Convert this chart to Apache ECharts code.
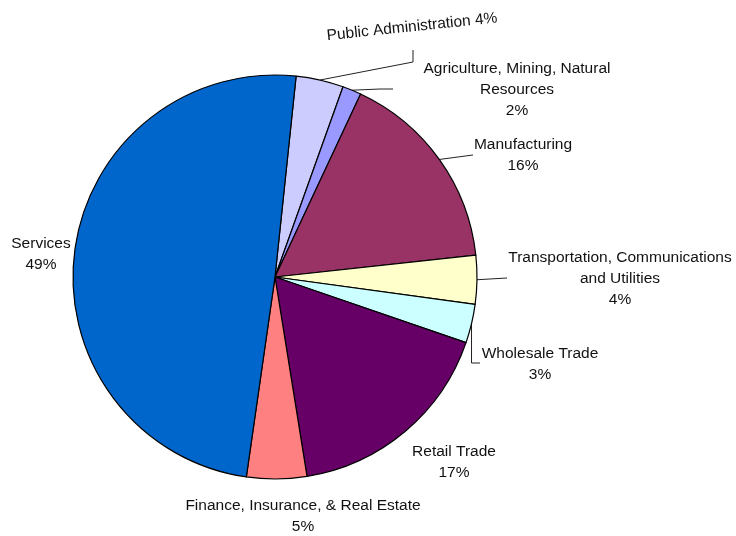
<!DOCTYPE html>
<html>
<head>
<meta charset="utf-8">
<title>Employment by sector</title>
<script src="https://cdn.jsdelivr.net/npm/echarts@6/dist/echarts.min.js"></script>
<style>
  html, body { margin: 0; padding: 0; background: #fff; }
  #chart { width: 736px; height: 536px; }
</style>
</head>
<body>
<div id="chart"></div>
<script>
// sectors, clockwise from the top
var sectors = [
    'Public Administration',
    'Agriculture, Mining, Natural\nResources',
    'Manufacturing',
    'Transportation, Communications\nand Utilities',
    'Wholesale Trade',
    'Retail Trade',
    'Finance, Insurance, & Real Estate',
    'Services'
];
var shares = [3.8, 1.5, 16.3, 3.9, 3.1, 17.2, 4.8, 49.4];
var colors = ['#CCCCFF', '#9999FF', '#993366', '#FFFFCC', '#CCFFFF', '#660066', '#FF8080', '#0066CC'];

// where each label sits (centre of the text block)
var labelPos = [[412, 27], [517, 90], [523, 155], [620, 279], [540, 364], [454, 462], [303, 516], [41, 254]];

var chart = echarts.init(document.getElementById('chart'));

var pieData = sectors.map(function (name, i) {
    var hasLine = i < 5;
    return {
        name: name,
        value: shares[i],
        itemStyle: { color: colors[i] },
        labelLine: { show: hasLine }
    };
});

chart.setOption({
    animation: false,
    series: [{
        type: 'pie',
        center: [275, 277],
        radius: 202,
        startAngle: 84,
        clockwise: true,
        avoidLabelOverlap: false,
        data: pieData,
        itemStyle: { borderColor: '#000', borderWidth: 1.2 },
        emphasis: { disabled: true },
        label: {
            show: true,
            position: 'outside',
            fontFamily: 'Liberation Sans, Arial, sans-serif',
            fontSize: 15.5,
            lineHeight: 21,
            color: '#111',
            align: 'center',
            formatter: function (p) {
                var pct = Math.round(p.percent) + '%';
                if (p.dataIndex === 0) {
                    return p.name + ' ' + pct;
                }
                return p.name + '\n' + pct;
            }
        },
        labelLine: {
            lineStyle: { color: '#222', width: 1 }
        },
        labelLayout: function (params) {
            var i = params.dataIndex;
            var pos = labelPos[i];
            var out = { x: pos[0], y: pos[1], align: 'center', verticalAlign: 'middle' };
            if (i === 0) out.rotate = 6;
            var p0 = params.labelLinePoints ? params.labelLinePoints[0] : null;
            if (p0) {
                if (i === 0) out.labelLinePoints = [p0, [413, 62], [413, 50]];
                if (i === 1) out.labelLinePoints = [p0, [380, 89], [393, 89]];
                if (i === 2) out.labelLinePoints = [p0, [473, 155], [473, 155]];
                if (i === 3) out.labelLinePoints = [p0, [507, 278], [507, 278]];
                if (i === 4) out.labelLinePoints = [p0, [p0[0], 363], [480, 363]];
            }
            return out;
        }
    }]
});
</script>
</body>
</html>
